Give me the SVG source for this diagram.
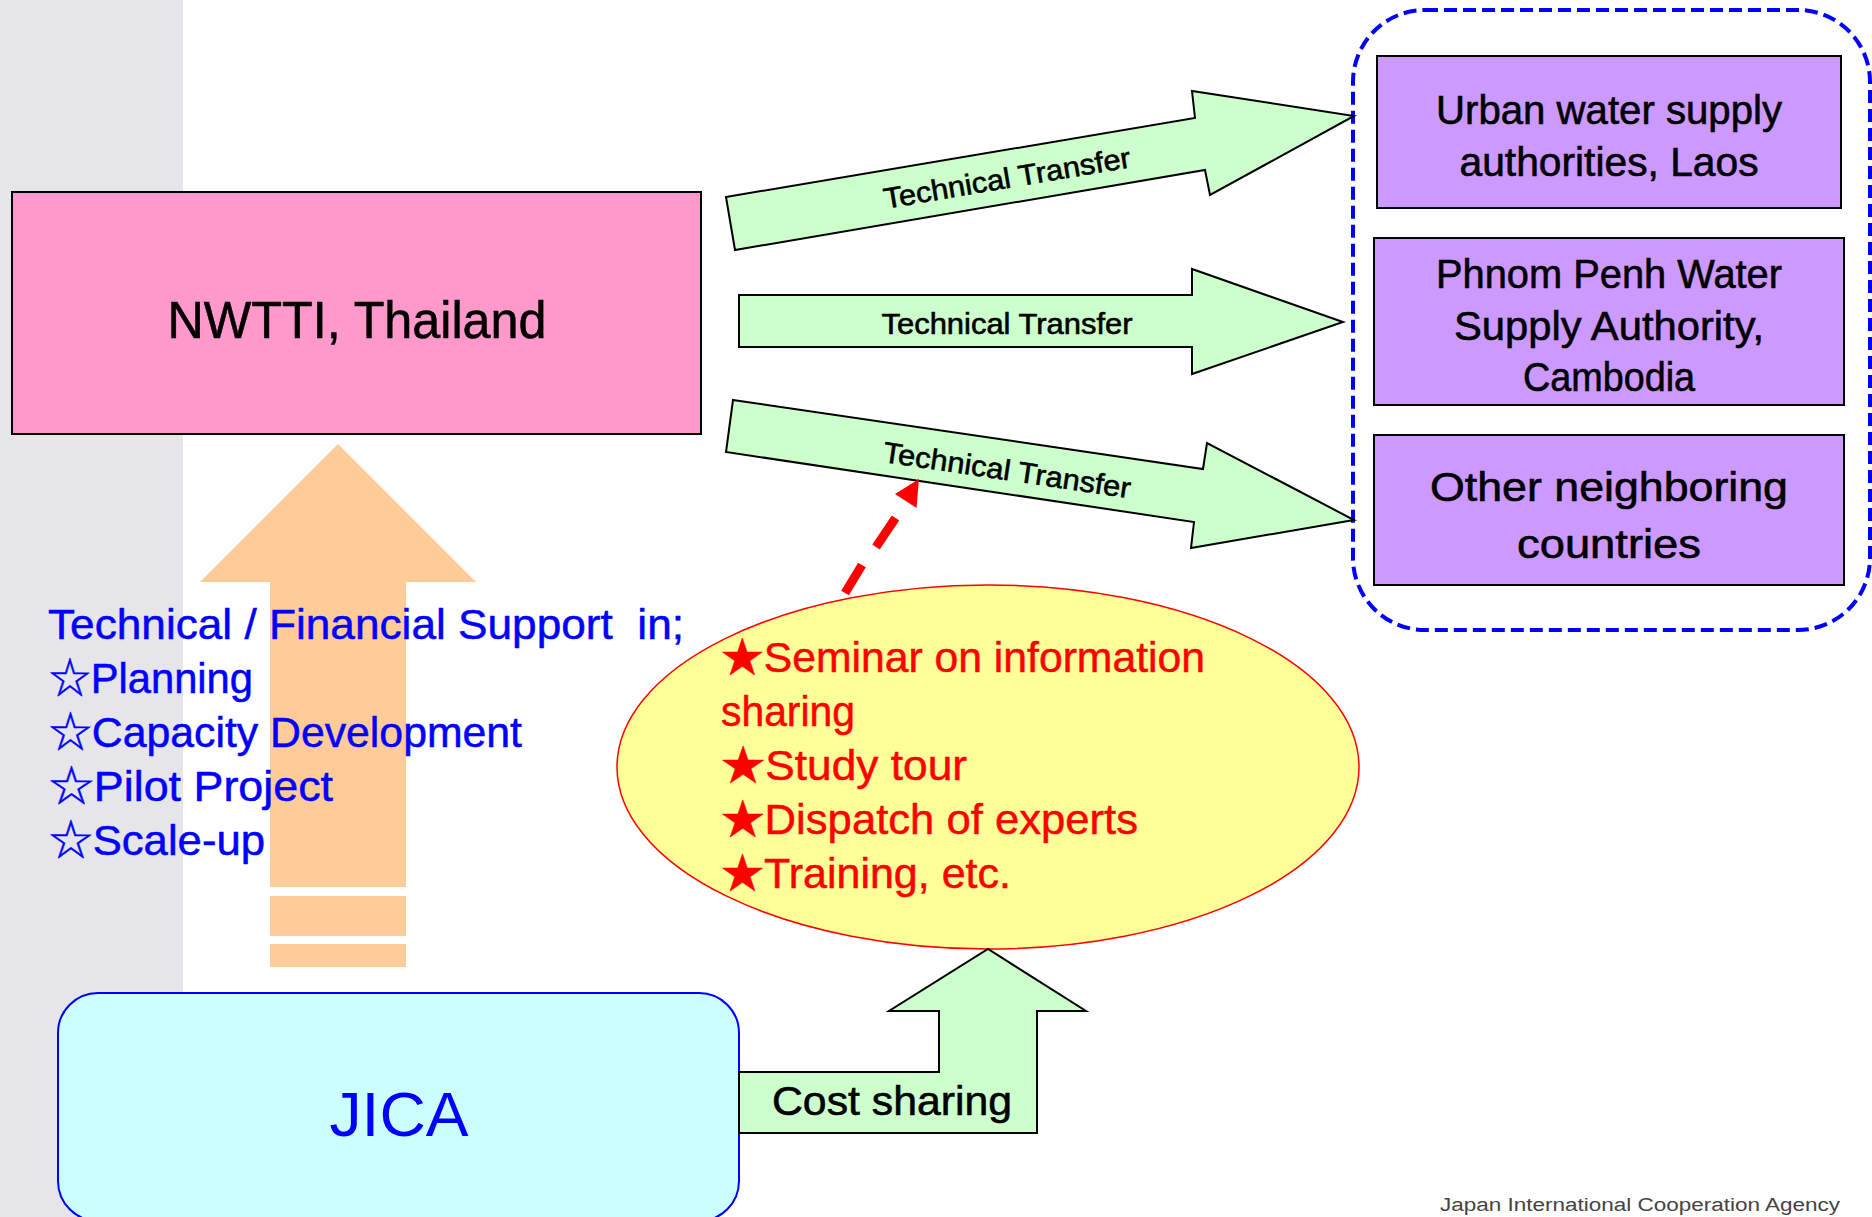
<svg xmlns="http://www.w3.org/2000/svg" width="1872" height="1217" viewBox="0 0 1872 1217">
<style>
  text { font-family: "Liberation Sans", "Noto Sans CJK JP", sans-serif; }
  .blk { fill: #000; stroke: #000; stroke-width: 0.6; }
  .tt { font-size: 29px; text-anchor: middle; }
  .box { font-size: 40px; text-anchor: middle; }
  .red { fill: #ff0000; stroke: #ff0000; stroke-width: 0.5; font-size: 42px; }
  .blue { fill: #0000ff; stroke: #0000ff; stroke-width: 0.5; font-size: 42px; }
  .green { fill: #ccffcc; stroke: #000; stroke-width: 2; stroke-linejoin: miter; }
  .purple { fill: #cc99ff; stroke: #000; stroke-width: 2; }
</style>
<rect x="0" y="0" width="1872" height="1217" fill="#ffffff"/>
<rect x="0" y="0" width="183" height="1217" fill="#e6e6e8"/>

<g id="support-arrow">
  <polygon points="338,444 476,582 406,582 406,887 270,887 270,582 200,582" fill="#ffcc99"/>
  <rect x="270" y="896" width="136" height="40" fill="#ffcc99"/>
  <rect x="270" y="944" width="136" height="23" fill="#ffcc99"/>
</g>

<g id="nwtti">
  <rect x="12" y="192" width="689" height="242" fill="#ff99cc" stroke="#000" stroke-width="2"/>
  <text class="blk" x="357" y="338" font-size="52" text-anchor="middle" textLength="379" lengthAdjust="spacingAndGlyphs">NWTTI, Thailand</text>
</g>

<g id="support-text">
  <text class="blue" x="48" y="639" textLength="636" lengthAdjust="spacingAndGlyphs" style="white-space:pre">Technical / Financial Support  in;</text>
  <text class="blue" x="49" y="693" textLength="204" lengthAdjust="spacingAndGlyphs">☆Planning</text>
  <text class="blue" x="49" y="747" textLength="473" lengthAdjust="spacingAndGlyphs">☆Capacity Development</text>
  <text class="blue" x="49" y="801" textLength="284" lengthAdjust="spacingAndGlyphs">☆Pilot Project</text>
  <text class="blue" x="49" y="855" textLength="216" lengthAdjust="spacingAndGlyphs">☆Scale-up</text>
</g>

<g id="partners-group">
  <rect x="1353" y="10" width="517" height="620" rx="72" ry="72" fill="none" stroke="#0000ff" stroke-width="4" stroke-dasharray="13 6"/>
</g>

<g id="laos">
  <rect class="purple" x="1377" y="56" width="464" height="152"/>
  <text class="blk box" x="1609" y="124" textLength="346" lengthAdjust="spacingAndGlyphs">Urban water supply</text>
  <text class="blk box" x="1609" y="176" textLength="299" lengthAdjust="spacingAndGlyphs">authorities, Laos</text>
</g>

<g id="cambodia">
  <rect class="purple" x="1374" y="238" width="470" height="167"/>
  <text class="blk box" x="1609" y="288" textLength="346" lengthAdjust="spacingAndGlyphs">Phnom Penh Water</text>
  <text class="blk box" x="1609" y="340" textLength="310" lengthAdjust="spacingAndGlyphs">Supply Authority,</text>
  <text class="blk box" x="1609" y="391" textLength="172" lengthAdjust="spacingAndGlyphs">Cambodia</text>
</g>

<g id="others">
  <rect class="purple" x="1374" y="435" width="470" height="150"/>
  <text class="blk box" x="1609" y="501" font-size="44" textLength="358" lengthAdjust="spacingAndGlyphs">Other neighboring</text>
  <text class="blk box" x="1609" y="558" font-size="44" textLength="184" lengthAdjust="spacingAndGlyphs">countries</text>
</g>

<g id="connectors">
  <g id="tt1">
    <polygon class="green" points="726,197 1195,118 1192,91 1354,116 1210,195 1205,170 735,250"/>
    <text class="blk tt" x="1007" y="188" transform="rotate(-9.6 1007 178)" textLength="250" lengthAdjust="spacingAndGlyphs">Technical Transfer</text>
  </g>
  <g id="tt2">
    <polygon class="green" points="739,295 1192,295 1192,269 1343,322 1192,374 1192,347 739,347"/>
    <text class="blk tt" x="1007" y="334" textLength="251" lengthAdjust="spacingAndGlyphs">Technical Transfer</text>
  </g>
  <g id="tt3">
    <polygon class="green" points="733,400 1203,469 1207,443 1354,520 1191,548 1194,522 726,452"/>
    <text class="blk tt" x="1007" y="480" transform="rotate(8.4 1007 470)" textLength="250" lengthAdjust="spacingAndGlyphs">Technical Transfer</text>
  </g>
  <g id="red-dashed">
    <line x1="845" y1="593" x2="862" y2="565" stroke="#ff0000" stroke-width="9"/>
    <line x1="876" y1="547" x2="895.5" y2="518" stroke="#ff0000" stroke-width="9"/>
    <polygon points="919,479 895,494 916.5,508" fill="#ff0000"/>
  </g>
</g>

<g id="activities">
  <ellipse cx="988" cy="767" rx="371" ry="182" fill="#ffff99" stroke="#ff0000" stroke-width="1.5"/>
  <text class="red" x="721" y="672" textLength="484" lengthAdjust="spacingAndGlyphs">★Seminar on information</text>
  <text class="red" x="721" y="726" textLength="134" lengthAdjust="spacingAndGlyphs">sharing</text>
  <text class="red" x="721" y="780" textLength="246" lengthAdjust="spacingAndGlyphs">★Study tour</text>
  <text class="red" x="721" y="834" textLength="417" lengthAdjust="spacingAndGlyphs">★Dispatch of experts</text>
  <text class="red" x="721" y="888" textLength="290" lengthAdjust="spacingAndGlyphs">★Training, etc.</text>
</g>

<g id="jica">
  <rect x="58" y="993" width="681" height="228" rx="40" ry="40" fill="#ccffff" stroke="#0000ff" stroke-width="2"/>
  <text x="399" y="1136" font-size="63" fill="#0000ff" text-anchor="middle" textLength="139" lengthAdjust="spacingAndGlyphs">JICA</text>
</g>

<g id="cost-sharing">
  <polygon class="green" stroke-width="1.5" points="739,1072 939,1072 939,1011 889,1011 988,949 1086,1011 1037,1011 1037,1133 739,1133"/>
  <text class="blk" x="772" y="1115" font-size="41" textLength="240" lengthAdjust="spacingAndGlyphs">Cost sharing</text>
</g>

<text x="1440" y="1211" font-size="18" fill="#444444" textLength="400" lengthAdjust="spacingAndGlyphs">Japan International Cooperation Agency</text>
</svg>
